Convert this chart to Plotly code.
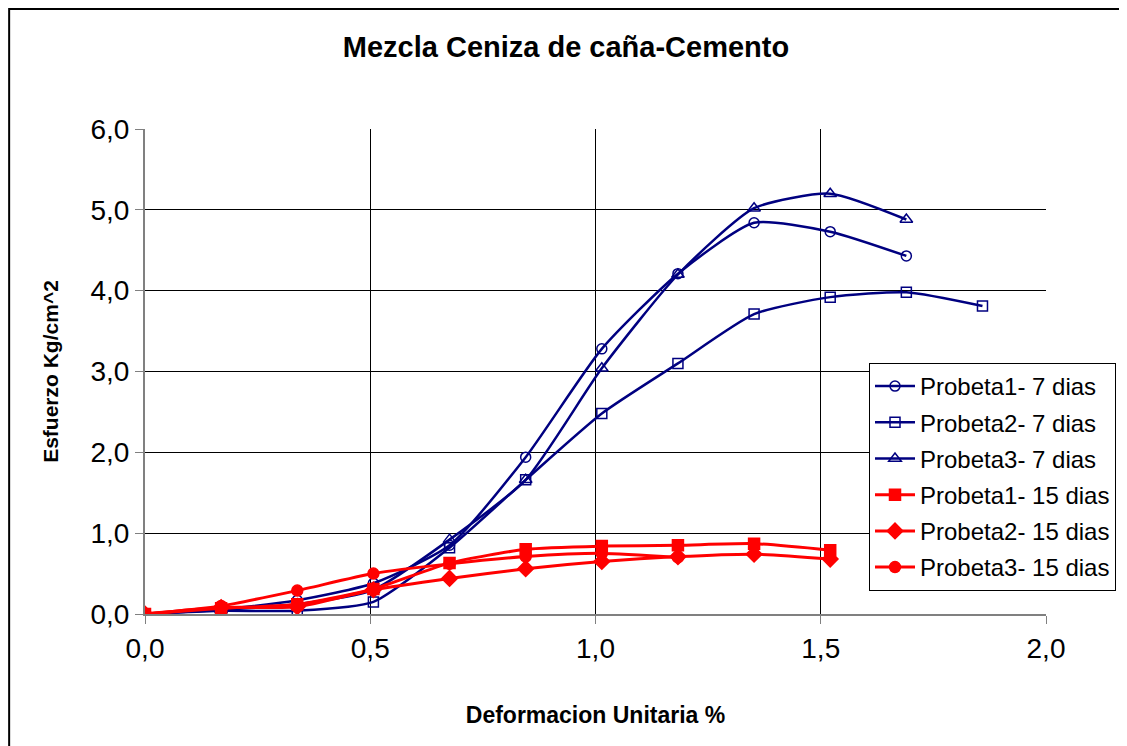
import plotly.graph_objects as go

strain = [0.0, 0.169, 0.338, 0.507, 0.676, 0.845, 1.014, 1.183, 1.352, 1.521, 1.690, 1.859]

p1_7 = [0.0, 0.06, 0.17, 0.38, 0.85, 1.94, 3.28, 4.21, 4.84, 4.73, 4.43]
p2_7 = [0.0, 0.04, 0.04, 0.15, 0.82, 1.66, 2.48, 3.10, 3.71, 3.92, 3.98, 3.81]
p3_7 = [0.0, 0.05, 0.12, 0.30, 0.92, 1.66, 3.04, 4.20, 5.02, 5.20, 4.88]
p1_15 = [0.0, 0.07, 0.12, 0.31, 0.63, 0.80, 0.84, 0.85, 0.87, 0.79]
p2_15 = [0.0, 0.08, 0.09, 0.30, 0.44, 0.56, 0.65, 0.71, 0.74, 0.68]
p3_15 = [0.0, 0.10, 0.29, 0.50, 0.62, 0.71, 0.75, 0.70]

names = ["Probeta1- 7 dias", "Probeta2- 7 dias", "Probeta3- 7 dias",
         "Probeta1- 15 dias", "Probeta2- 15 dias", "Probeta3- 15 dias"]

x_ticks = [0.0, 0.5, 1.0, 1.5, 2.0]
y_ticks = [0, 1, 2, 3, 4, 5, 6]

NAVY = "#000080"
RED = "#FF0000"

series = [
    (p1_7, "circle-open", NAVY, 10),
    (p2_7, "square-open", NAVY, 10),
    (p3_7, "triangle-up-open", NAVY, 11),
    (p1_15, "square", RED, 11),
    (p2_15, "diamond", RED, 12),
    (p3_15, "circle", RED, 11),
]

fig = go.Figure()
for i, (name, (vals, sym, col, sz)) in enumerate(zip(names, series)):
    fig.add_trace(go.Scatter(
        x=strain[:len(vals)], y=vals, name=name, mode="lines+markers",
        legendgroup=f"g{i}",
        line=dict(color=col, width=3 if col == RED else 2.5, shape="spline", smoothing=0.6),
        marker=dict(symbol=sym, size=sz, color=col, line=dict(color=col, width=1.5)),
    ))

# page body adds an 8px offset; figure coordinates = screen - 8
W, H = 1119, 738
fig.update_layout(
    width=W, height=H,
    margin=dict(l=137, r=80, t=121, b=132),
    paper_bgcolor="white", plot_bgcolor="white",
    separators=",.",
    font=dict(family="Arial, Liberation Sans, sans-serif", color="black"),
    title=dict(text="<b>Mezcla Ceniza de caña-Cemento</b>", x=(566-8)/W, xanchor="center",
               y=1 - (47-8)/H, yanchor="middle", font=dict(size=29)),
    legend=dict(x=(869-145)/902, y=(614-363)/485, xanchor="left", yanchor="top",
                bgcolor="white", bordercolor="black", borderwidth=1,
                font=dict(size=24), tracegroupgap=2, itemwidth=40, traceorder="grouped"),
    showlegend=True,
)
fig.update_xaxes(
    range=[0, 2], tickvals=x_ticks, tickformat=".1f",
    showgrid=True, gridcolor="black", gridwidth=1,
    showline=True, linecolor="#808080", linewidth=2,
    ticks="outside", ticklen=8, tickcolor="#808080",
    tickfont=dict(size=28),
    title=dict(text="<b>Deformacion Unitaria %</b>", font=dict(size=23), standoff=44),
    zeroline=False,
)
fig.update_yaxes(
    range=[0, 6], tickvals=y_ticks, tickformat=".1f",
    showgrid=True, gridcolor="black", gridwidth=1,
    showline=True, linecolor="#808080", linewidth=2,
    ticks="outside", ticklen=8, tickcolor="#808080",
    tickfont=dict(size=28),
    title=dict(text="<b>Esfuerzo Kg/cm^2</b>", font=dict(size=21), standoff=26),
    zeroline=False,
)
fig.add_shape(type="rect", xref="paper", yref="paper",
              x0=(9-145)/902, x1=(1122-145)/902, y0=(614-760)/485, y1=(614-9)/485,
              line=dict(color="black", width=2), layer="below")

fig.write_html("out.html")
